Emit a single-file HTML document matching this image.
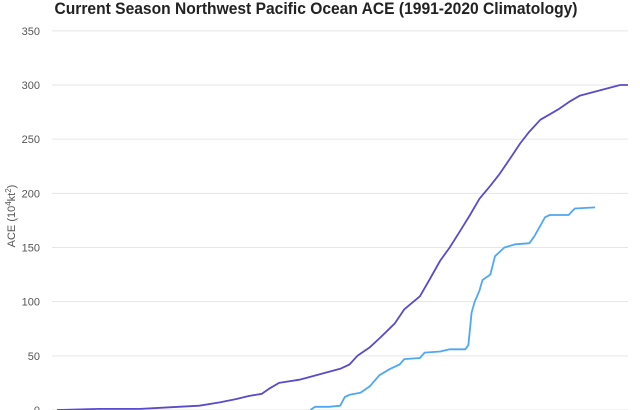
<!DOCTYPE html>
<html><head><meta charset="utf-8"><style>
body{margin:0;background:#fff;width:640px;height:410px;overflow:hidden}
svg{display:block;font-family:"Liberation Sans",sans-serif}
</style></head><body>
<svg id="c" width="640" height="410">
<text x="316" y="14" text-anchor="middle" font-size="17" font-weight="bold" fill="#222" textLength="523" lengthAdjust="spacingAndGlyphs">Current Season Northwest Pacific Ocean ACE (1991-2020 Climatology)</text>
<text transform="translate(15,216) rotate(-90)" text-anchor="middle" font-size="11" fill="#555">ACE (10<tspan font-size="8" dy="-4">4</tspan><tspan dy="4">kt</tspan><tspan font-size="8" dy="-4">2</tspan><tspan dy="4">)</tspan></text>
<g id="grid"></g><g id="series"></g>
</svg>
<script>
const yTicks=[0,50,100,150,200,250,300,350];
const climDays=[0,27,53,66,91,104,114,123,131,136,142,155,168,181,187,192,200,206,216,222,232,238,245,251,258,264,270,277,283,290,296,302,309,315,321,328,334,347,360,365];
const climAce=[0,1,1,2,4,7,10,13,15,20,25,28,33,38,42,50,58,66,80,93,105,120,138,150,166,180,195,207,218,233,246,257,268,273,278,285,290,295,300,300];
const curDays=[162,165,174,181,184,187,194,200,206,213,219,222,232,235,245,251,261,263,265,267,270,272,277,280,286,293,302,305,312,315,327,331,344];
const curAce=[0,3,3,4,12,14,16,22,32,38,42,47,48,53,54,56,56,60,90,100,110,120,125,142,150,153,154,160,178,180,180,186,187];
const NS='http://www.w3.org/2000/svg';
const xS=d=>57+d*(571/365);
const yS=v=>410-v*(325/300);
const grid=document.getElementById('grid');
yTicks.forEach(t=>{
  const l=document.createElementNS(NS,'line');
  l.setAttribute('x1',52);l.setAttribute('x2',628);
  l.setAttribute('y1',yS(t));l.setAttribute('y2',yS(t));
  l.setAttribute('stroke','#e6e6e6');l.setAttribute('stroke-width',1);
  
  
  grid.appendChild(l);
  const tx=document.createElementNS(NS,'text');
  tx.setAttribute('x',40);tx.setAttribute('y',yS(t)+4);
  tx.setAttribute('text-anchor','end');tx.setAttribute('font-size',11);tx.setAttribute('fill','#555');
  tx.textContent=t;
  
  
  grid.appendChild(tx);
});
function line(days,vals,color,name){
  const p=document.createElementNS(NS,'path');
  p.setAttribute('d',days.map((d,i)=>(i?'L':'M')+xS(d).toFixed(1)+','+yS(vals[i]).toFixed(1)).join(''));
  p.setAttribute('fill','none');p.setAttribute('stroke',color);p.setAttribute('stroke-width',1.8);
  p.setAttribute('stroke-linejoin','round');
  
  
  document.getElementById('series').appendChild(p);
}
line(climDays,climAce,'#5a4bc8','climatology-line');
line(curDays,curAce,'#4ea8f5','current-season-line');
</script>
</body></html>
